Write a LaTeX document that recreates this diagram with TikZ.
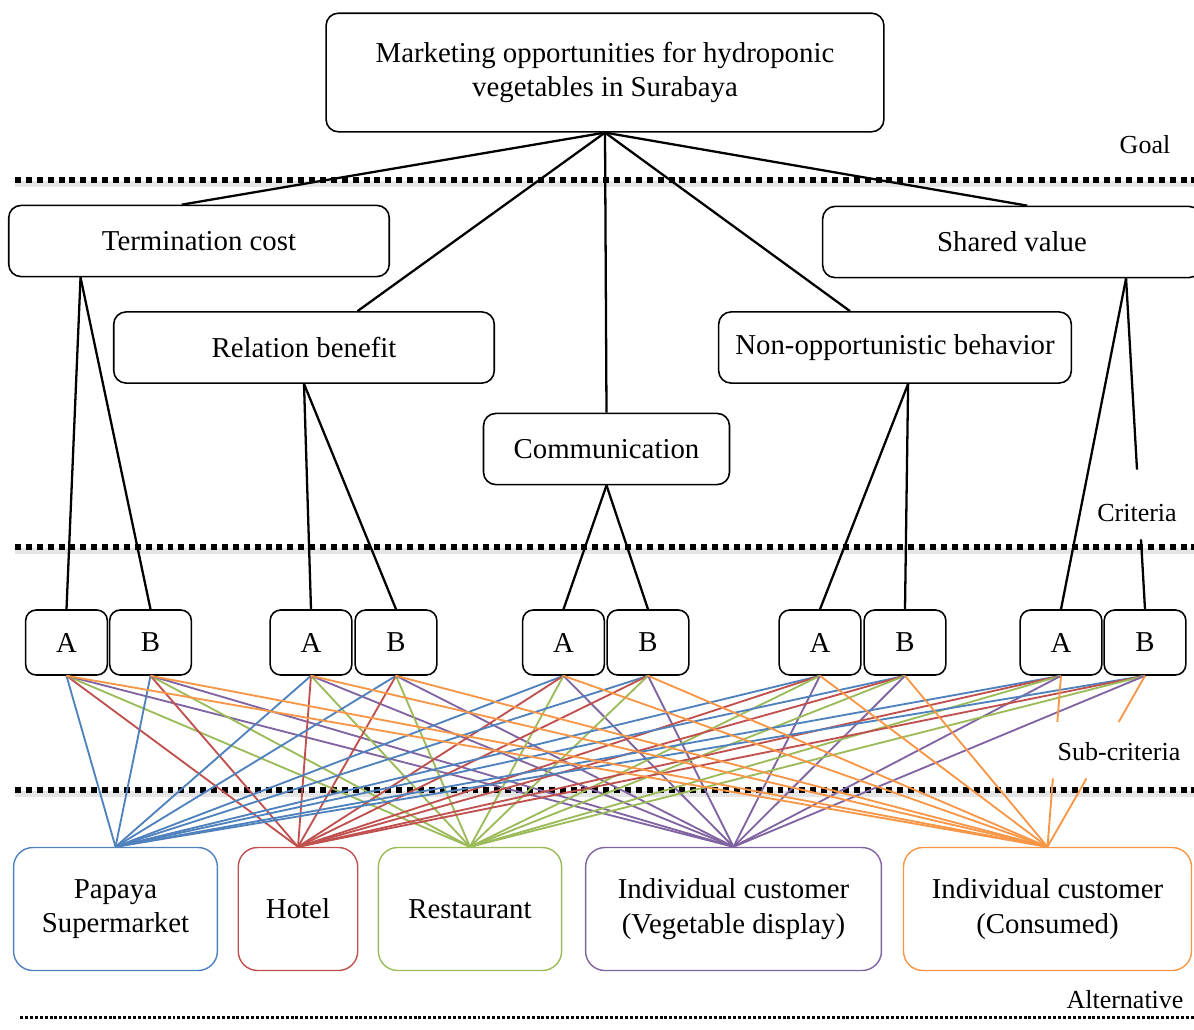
\documentclass[tikz,border=0pt]{standalone}
\usepackage{fontspec}
\setmainfont{Liberation Serif}
\usetikzlibrary{calc}

\definecolor{altblue}{RGB}{79,129,189}
\definecolor{altred}{RGB}{192,80,77}
\definecolor{altgreen}{RGB}{155,187,89}
\definecolor{altpurple}{RGB}{128,100,162}
\definecolor{altorange}{RGB}{247,150,70}

\begin{document}
\begin{tikzpicture}[x=0.02cm,y=-0.02cm,
  box/.style={draw,rounded corners=7pt,line width=0.9pt,font=\fontsize{16.4}{19.5}\selectfont,align=center,inner sep=0pt},
  crit/.style={box,minimum height=40.5pt},
  sub/.style={box,rounded corners=6pt,minimum width=46.5pt,minimum height=37pt},
  alt/.style={box,rounded corners=11pt,line width=0.8pt,minimum height=70pt},
  level/.style={font=\fontsize{14.8}{18}\selectfont,inner sep=1pt},
  sep/.style={line width=3.4pt,dash pattern=on 3.4pt off 2.8pt},
  thinsep/.style={line width=1.7pt,dash pattern=on 1.7pt off 1.1pt},
  link/.style={line width=1.3pt},
  wire/.style={line width=1.05pt}]
\useasboundingbox (0,0) rectangle (1194,1029);

% level separators
\foreach \y in {180,547,790}
  {\draw[black!10,line width=3pt] (15,\y+4) -- (1194,\y+4);
   \draw[sep] (15,\y) -- (1194,\y);}
\draw[thinsep] (20,1017) -- (1194,1017);

% goal and criteria
\node[box,minimum width=317.5pt,minimum height=67.5pt] (goal) at (605,72.5) {Marketing opportunities for hydroponic\\vegetables in Surabaya};
\node[crit,minimum width=216.6pt] (term) at (199,241) {Termination cost};
\node[crit,minimum width=216.6pt] (rel) at (304,347.5) {Relation benefit};
\node[crit,minimum width=140pt] (comm) at (606.5,449) {Communication};
\node[crit,minimum width=200.7pt] (nonop) at (895,347.5) {Non-opportunistic behavior};
\node[crit,minimum width=215.5pt] (shared) at (1012,242) {Shared value};

% sub-criteria
\node[sub] (a1) at (66.5,642.5) {A};
\node[sub] (b1) at (150.5,642.5) {B};
\node[sub] (a2) at (311,642.5) {A};
\node[sub] (b2) at (396,642.5) {B};
\node[sub] (a3) at (563.5,642.5) {A};
\node[sub] (b3) at (648,642.5) {B};
\node[sub] (a4) at (820,642.5) {A};
\node[sub] (b4) at (905,642.5) {B};
\node[sub] (a5) at (1061,642.5) {A};
\node[sub] (b5) at (1145,642.5) {B};

% alternatives
\node[alt,draw=altblue,minimum width=116pt] (pap) at (115.5,909) {Papaya\\Supermarket};
\node[alt,draw=altred,minimum width=68pt] (hotel) at (298,909) {Hotel};
\node[alt,draw=altgreen,minimum width=104.3pt] (rest) at (470,909) {Restaurant};
\node[alt,draw=altpurple,minimum width=168.4pt] (disp) at (733.5,909) {Individual customer\\(Vegetable display)};
\node[alt,draw=altorange,minimum width=163.9pt] (cons) at (1047.5,909) {Individual customer\\(Consumed)};

% level labels
\node[level] (goallbl) at (1145,145) {Goal};
\node[level] (critlbl) at (1137,513) {Criteria};
\node[level] (sublbl) at (1119,752) {Sub-criteria};
\node[level] (altlbl) at (1125,1000) {Alternative};

% goal to criteria
\path[link] (goal.south)
  edge ($(term.north west)!0.455!(term.north east)$)
  edge ($(rel.north west)!0.64!(rel.north east)$)
  edge (comm.north)
  edge ($(nonop.north west)!0.373!(nonop.north east)$)
  edge ($(shared.north west)!0.54!(shared.north east)$);

% criteria to sub-criteria
\coordinate (tc) at ($(term.south west)!0.19!(term.south east)$);
\coordinate (nb) at ($(nonop.south west)!0.537!(nonop.south east)$);
\coordinate (sv) at ($(shared.south west)!0.8!(shared.south east)$);
\path[link]
(tc) edge (a1.north)
     edge (b1.north)
(rel.south) edge (a2.north)
            edge (b2.north)
(comm.south) edge (a3.north)
             edge (b3.north)
(nb) edge (a4.north)
     edge (b4.north)
(sv) edge (a5.north)
     edge ($(sv)!0.578!(b5.north)$)
($(sv)!0.789!(b5.north)$) edge (b5.north);

% sub-criteria to alternatives
\foreach \s in {a1,b1,a2,b2,a3,b3,a4,b4,a5,b5}
  \path[wire] (\s.south)
    edge[altblue] (pap.north)
    edge[altred] (hotel.north)
    edge[altgreen] (rest.north)
    edge[altpurple] (disp.north);
\foreach \s in {a1,b1,a2,b2,a3,b3,a4,b4}
  \path[wire] (\s.south) edge[altorange] (cons.north);
\path[wire,altorange]
(a5.south) edge ($(a5.south)!0.27!(cons.north)$)
($(a5.south)!0.6!(cons.north)$) edge (cons.north)
(b5.south) edge ($(b5.south)!0.27!(cons.north)$)
($(b5.south)!0.6!(cons.north)$) edge (cons.north);
\end{tikzpicture}
\end{document}
